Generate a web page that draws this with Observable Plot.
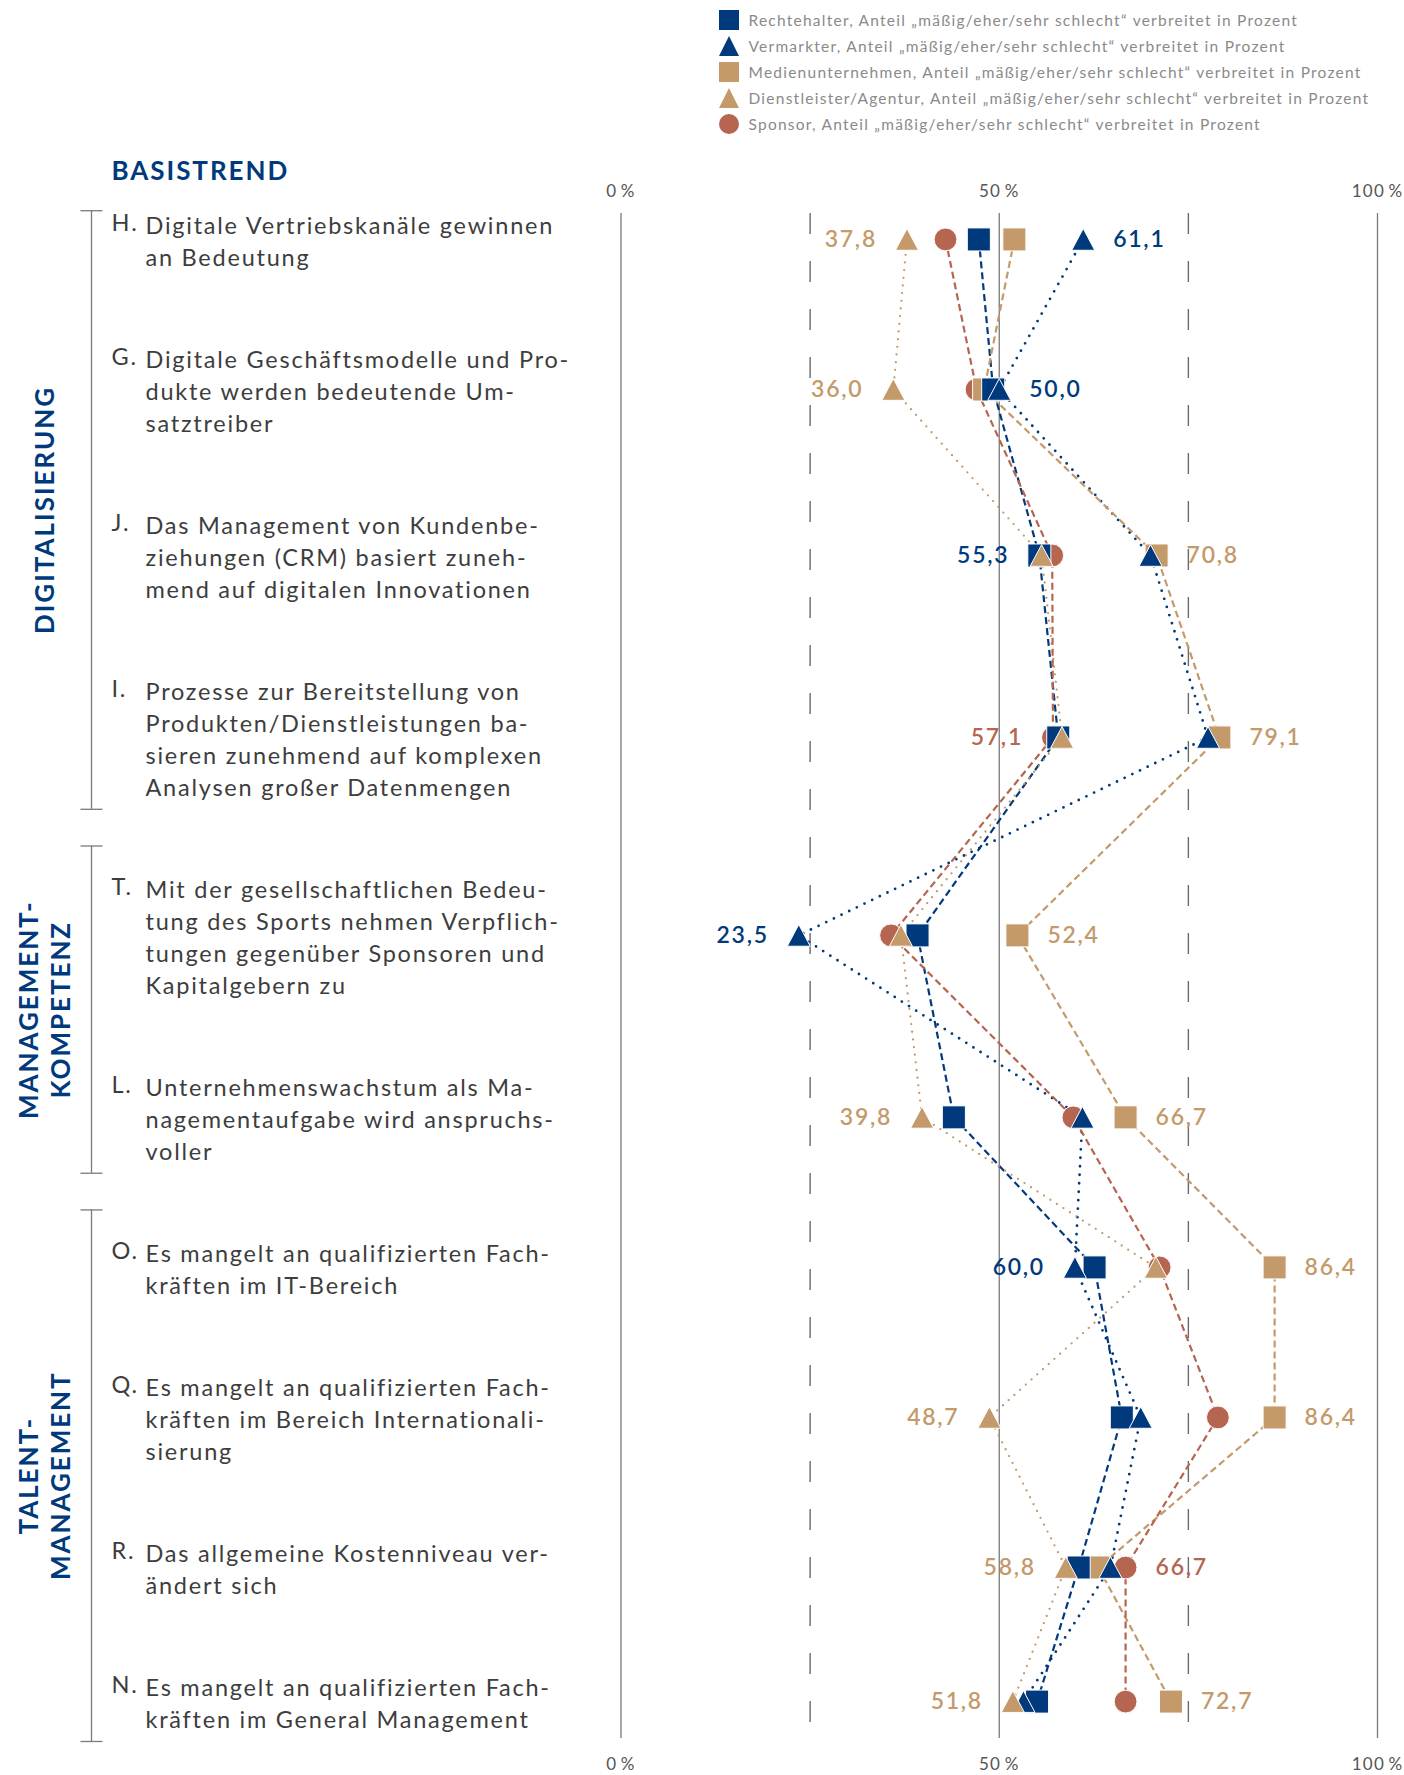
<!DOCTYPE html>
<html><head><meta charset="utf-8">
<script src="https://cdn.jsdelivr.net/npm/d3@7"></script>
<script src="https://cdn.jsdelivr.net/npm/@observablehq/plot@0.6"></script>
<style>
body{margin:0;background:#fff;font-family:Lato,sans-serif;}
#legend{position:relative;height:140px;width:1404px;}
.li{position:absolute;left:719px;height:26px;display:flex;align-items:center;font-size:15.5px;color:#8a8a8a;white-space:nowrap;letter-spacing:0.08em;}
.li svg{margin-right:9.5px;}
#chart svg{display:block;}
#chart svg text{letter-spacing:0.075em;}
</style></head><body>
<div id="legend"></div><div id="chart"></div>
<script>
// ---------- data ----------
const codes = ["H.","G.","J.","I.","T.","L.","O.","Q.","R.","N."];
const labelLines = [
  ["Digitale Vertriebskanäle gewinnen","an Bedeutung"],
  ["Digitale Geschäftsmodelle und Pro-","dukte werden bedeutende Um-","satztreiber"],
  ["Das Management von Kundenbe-","ziehungen (CRM) basiert zuneh-","mend auf digitalen Innovationen"],
  ["Prozesse zur Bereitstellung von","Produkten/Dienstleistungen ba-","sieren zunehmend auf komplexen","Analysen großer Datenmengen"],
  ["Mit der gesellschaftlichen Bedeu-","tung des Sports nehmen Verpflich-","tungen gegenüber Sponsoren und","Kapitalgebern zu"],
  ["Unternehmenswachstum als Ma-","nagementaufgabe wird anspruchs-","voller"],
  ["Es mangelt an qualifizierten Fach-","kräften im IT-Bereich"],
  ["Es mangelt an qualifizierten Fach-","kräften im Bereich Internationali-","sierung"],
  ["Das allgemeine Kostenniveau ver-","ändert sich"],
  ["Es mangelt an qualifizierten Fach-","kräften im General Management"]
];
const groupNames = [["DIGITALISIERUNG"],["MANAGEMENT-","KOMPETENZ"],["TALENT-","MANAGEMENT"]];
const groupOfRow = [0,0,0,0,1,1,2,2,2,2];
const seriesNames = ["Rechtehalter","Vermarkter","Medienunternehmen","Dienstleister/Agentur","Sponsor"];
const legendSuffix = ", Anteil „mäßig/eher/sehr schlecht“ verbreitet in Prozent";
const rechtehalter  = [47.3, 49.2, 55.3, 57.8, 39.2, 44.0, 62.6, 66.2, 60.5, 55.0];
const vermarkter    = [61.1, 50.0, 70.0, 77.6, 23.5, 61.0, 60.0, 68.7, 64.7, 53.2];
const medien        = [52.0, 48.0, 70.8, 79.1, 52.4, 66.7, 86.4, 86.4, 63.1, 72.7];
const dienstleister = [37.8, 36.0, 55.6, 58.3, 37.0, 39.8, 70.7, 48.7, 58.8, 51.8];
const sponsor       = [42.9, 47.0, 57.0, 57.1, 35.7, 59.8, 71.2, 78.9, 66.7, 66.7];
const xTicks = [0, 50, 100];
const xDashed = [25, 75];
const title = "BASISTREND";

// ---------- styles ----------
const BLUE = "#003a7d", TAN = "#c49a6a", RED = "#b56550";
const triUp = {draw(ctx, size){const s=Math.sqrt(size);const w=s/2,h=s*0.47;ctx.moveTo(0,-h);ctx.lineTo(w,h);ctx.lineTo(-w,h);ctx.closePath();}};
const styles = {
  "Rechtehalter":          {color: BLUE, dash: "7,4",   width: 2.2, cap: "butt",  symbol: d3.symbolSquare, r: 13, kind: "square"},
  "Vermarkter":            {color: BLUE, dash: "0,8.5", width: 2.8, cap: "round", symbol: triUp,          r: 13, kind: "triangle"},
  "Medienunternehmen":     {color: TAN,  dash: "7,4",   width: 2.2, cap: "butt",  symbol: d3.symbolSquare, r: 13, kind: "square"},
  "Dienstleister/Agentur": {color: TAN,  dash: "0,7.7", width: 2.3, cap: "round", symbol: triUp,          r: 13, kind: "triangle"},
  "Sponsor":               {color: RED,  dash: "7,4",   width: 2.2, cap: "butt",  symbol: "circle",       r: 11.4, kind: "circle"}
};
const valuesBySeries = {"Rechtehalter": rechtehalter, "Vermarkter": vermarkter, "Medienunternehmen": medien, "Dienstleister/Agentur": dienstleister, "Sponsor": sponsor};
const drawOrder = ["Sponsor","Medienunternehmen","Rechtehalter","Vermarkter","Dienstleister/Agentur"];

// ---------- layout (rows stacked by their label line count) ----------
const LINE = 32, FS = 23.5, GAP = 2.2; // y unit = one text line
let acc = 0;
const rows = codes.map((code, i) => {
  const n = labelLines[i].length;
  const r = {i, code, text: labelLines[i].join("\n"), start: acc, end: acc + n - 1, center: acc + (n - 1) / 2, group: groupOfRow[i]};
  acc += n + GAP;
  return r;
});
const yDomain = [rows[0].start - 10/LINE, rows[rows.length-1].end + 21/LINE];
const groups = groupNames.map((g, k) => {
  const rs = rows.filter(r => r.group === k);
  const top = rs[0].start - (k === 0 ? 0.4 : 1.3);
  const bottom = rs[rs.length-1].end + 0.75;
  return {name: g.join("\n"), top, bottom, mid: (top + bottom) / 2};
});
const ends = groups.flatMap(g => [g.top, g.bottom]);

const long = seriesNames.flatMap(s => valuesBySeries[s].map((v, i) => ({series: s, row: i, value: v, y: rows[i].center})));
const extremes = rows.flatMap(r => {
  const pts = long.filter(d => d.row === r.i);
  return [{...d3.least(pts, d => d.value), side: "min"}, {...d3.greatest(pts, d => d.value), side: "max"}];
});
const fmt = v => d3.format(".1f")(v).replace(".", ",");

// ---------- frame ----------
const W = 1404, H = 1635, ML = 620.5, MR = 27, MT = 73, MB = 37;
const frameCenter = (ML + W - MR) / 2;
const LABEL_X = 111, BODY_X = 145, BRACKET_X = 91, TICK_L = 80.5, TICK_W = 22, GROUP_X = 43;

const marks = [
  Plot.ruleX(xTicks, {x: d => d, stroke: "#7a7a7a", strokeWidth: 1.3}),
  Plot.ruleX(xDashed, {x: d => d, stroke: "#6a6a6a", strokeWidth: 1.4, strokeDasharray: "21,27"}),
  Plot.text(xTicks, {x: d => d, frameAnchor: "top", dy: -29, text: d => `${d}\u2009%`, fontSize: 17, fill: "#555"}),
  Plot.text(xTicks, {x: d => d, frameAnchor: "bottom", dy: 31, text: d => `${d}\u2009%`, fontSize: 17, fill: "#555"}),
];
for (const s of seriesNames) {
  const st = styles[s];
  marks.push(Plot.line(long.filter(d => d.series === s), {x: "value", y: "y", stroke: st.color, strokeWidth: st.width, strokeDasharray: st.dash, strokeLinecap: st.cap}));
}
for (const s of drawOrder) {
  const st = styles[s];
  marks.push(Plot.dot(long.filter(d => d.series === s), {x: "value", y: "y", symbol: st.symbol, r: st.r, fill: st.color, stroke: "white", strokeWidth: 1}));
}
marks.push(
  Plot.text(extremes.filter(d => d.side === "min"), {x: "value", y: "y", text: d => fmt(d.value), fill: d => styles[d.series].color, textAnchor: "end", dx: -30, fontSize: 23, fontWeight: 600}),
  Plot.text(extremes.filter(d => d.side === "max"), {x: "value", y: "y", text: d => fmt(d.value), fill: d => styles[d.series].color, textAnchor: "start", dx: 30, fontSize: 23, fontWeight: 600}),
  Plot.text(rows, {y: "start", frameAnchor: "left", dx: LABEL_X - ML, text: "code", textAnchor: "start", fontSize: FS, fill: "#3d3d3d"}),
  Plot.text(rows, {y: "center", frameAnchor: "left", dx: BODY_X - ML, text: "text", textAnchor: "start", lineAnchor: "middle", lineHeight: LINE / FS, fontSize: FS, fill: "#3d3d3d"}),
  Plot.ruleX(groups, {x: null, y1: "top", y2: "bottom", dx: BRACKET_X - frameCenter, stroke: "#7a7a7a", strokeWidth: 1.3}),
  Plot.ruleY(ends, {y: d => d, dx: TICK_L - ML, insetRight: (W - MR - ML) - TICK_W, stroke: "#7a7a7a", strokeWidth: 1.3}),
  Plot.text(groups, {y: "mid", frameAnchor: "left", dx: GROUP_X - ML, text: "name", textAnchor: "middle", lineAnchor: "middle", rotate: -90, fontSize: 26, fontWeight: 700, fill: BLUE, lineHeight: 32 / 26}),
  Plot.text([title], {frameAnchor: "top-left", dx: LABEL_X - ML, dy: -52, text: d => d, textAnchor: "start", fontSize: 26, fontWeight: 700, fill: BLUE})
);

const plot = Plot.plot({
  width: W, height: H, marginLeft: ML, marginRight: MR, marginTop: MT, marginBottom: MB,
  x: {domain: [0, 100], axis: null},
  y: {domain: yDomain, reverse: true, axis: null},
  style: {fontFamily: "Lato, sans-serif", background: "white", overflow: "visible"},
  marks
});
document.getElementById("chart").append(plot);

// ---------- legend ----------
const legend = document.getElementById("legend");
seriesNames.forEach((s, k) => {
  const st = styles[s];
  const div = document.createElement("div");
  div.className = "li";
  div.style.top = (20.4 + 26 * k - 13) + "px";
  let shape;
  if (st.kind === "square") shape = `<rect x="0" y="0" width="20" height="20" fill="${st.color}"/>`;
  else if (st.kind === "triangle") shape = `<path d="M10,0L20,20L0,20Z" fill="${st.color}"/>`;
  else shape = `<circle cx="10" cy="10" r="10" fill="${st.color}"/>`;
  div.innerHTML = `<svg width="20" height="20" viewBox="0 0 20 20">${shape}</svg><span>${s}${legendSuffix}</span>`;
  legend.append(div);
});
</script></body></html>
